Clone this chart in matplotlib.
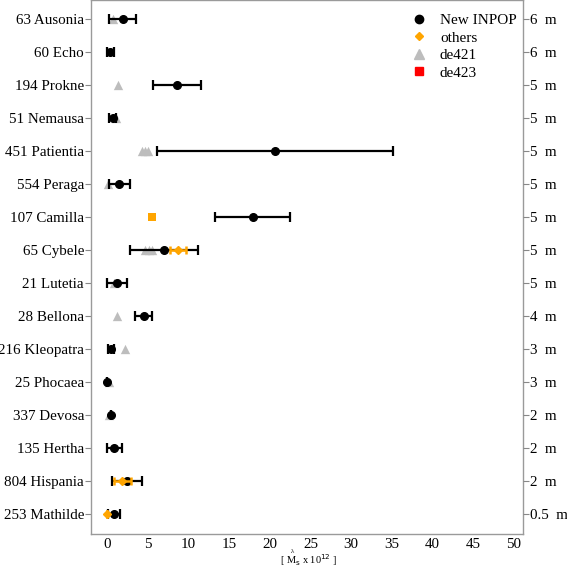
import matplotlib
matplotlib.use("Agg")
import matplotlib.pyplot as plt
import numpy as np
from matplotlib.lines import Line2D

plt.rcParams['font.family'] = ['Liberation Serif', 'DejaVu Serif']

# rows listed top to bottom
asteroids = ["63 Ausonia", "60 Echo", "194 Prokne", "51 Nemausa", "451 Patientia",
             "554 Peraga", "107 Camilla", "65 Cybele", "21 Lutetia", "28 Bellona",
             "216 Kleopatra", "25 Phocaea", "337 Devosa", "135 Hertha", "804 Hispania",
             "253 Mathilde"]
right_labels = ["6", "6", "5", "5", "5", "5", "5", "5", "5", "4", "3", "3", "2", "2", "2", "0.5"]

inpop_val = [1.95, 0.4, 8.6, 0.7, 20.6, 1.5, 17.9, 7.0, 1.2, 4.5, 0.5, 0.0, 0.5, 0.9, 2.45, 0.86]
inpop_err = [1.67, 0.4, 2.9, 0.4, 14.5, 1.3, 4.6, 4.2, 1.2, 1.05, 0.4, 0.0, 0.0, 0.9, 1.8, 0.68]

de421_names = ["63 Ausonia", "194 Prokne", "51 Nemausa", "451 Patientia", "451 Patientia",
               "451 Patientia", "554 Peraga", "65 Cybele", "65 Cybele", "65 Cybele",
               "21 Lutetia", "28 Bellona", "216 Kleopatra", "25 Phocaea", "337 Devosa"]
de421_vals = [0.7, 1.35, 1.1, 4.3, 4.65, 5.0, 0.15, 4.7, 5.1, 5.5, 0.9, 1.2, 2.2, 0.25, 0.2]

others_names = ["65 Cybele", "804 Hispania", "253 Mathilde"]
others_vals = [8.75, 1.85, 0.05]
others_err = [1.0, 1.05, 0.0]
others_sq_names = ["107 Camilla"]
others_sq_vals = [5.5]

n = len(asteroids)
ypos = {name: n - i for i, name in enumerate(asteroids)}

fig = plt.figure(figsize=(5.67, 5.67), dpi=100)
ax = fig.add_axes([0.1605, 0.058, 0.922 - 0.1605, 0.942])

gray = "#bdbdbd"
orange = "#ffa500"
fs = 10.8

# de421
ax.scatter(de421_vals, [ypos[k] for k in de421_names], marker="^", s=45,
           color=gray, zorder=2, linewidths=0)
# others
ax.errorbar(others_vals, [ypos[k] for k in others_names], xerr=others_err,
            fmt="D", ms=4, color=orange, ecolor=orange, elinewidth=1.8,
            capsize=3, capthick=1.8, zorder=4)
ax.scatter(others_sq_vals, [ypos[k] for k in others_sq_names], marker="s", s=30,
           color=orange, zorder=4, linewidths=0)
# new INPOP
yv = [ypos[k] for k in asteroids]
ax.errorbar(inpop_val, yv, xerr=inpop_err, fmt="o", ms=5.5, color="black",
            ecolor="black", elinewidth=1.6, capsize=3.5, capthick=1.6, zorder=3)

ax.set_xlim(-1.97, 51.1)
ax.set_ylim(0.394, 16.576)
ax.set_xticks(np.arange(0, 51, 5))
ax.tick_params(axis="x", length=0, labelsize=fs, pad=3, colors="black")
ax.set_yticks(yv)
ax.set_yticklabels(asteroids, fontsize=fs)
ax.tick_params(axis="y", length=4, color="#888888", pad=1)

for sp in ax.spines.values():
    sp.set_color("#9a9a9a")
    sp.set_linewidth(1.0)

ax2 = ax.twinx()
ax2.set_ylim(ax.get_ylim())
ax2.set_yticks(yv)
ax2.set_yticklabels([s + "\u2002m" for s in right_labels], fontsize=fs)
ax2.tick_params(axis="y", length=4, color="#888888", pad=1.5)
for sp in ax2.spines.values():
    sp.set_visible(False)

fig.text(0.545, 0.012, r"[ M$_{\rm s}$ x 10$^{12}$ ]", fontsize=7.5, ha="center", va="center")
fig.text(0.516, 0.027, "λ", fontsize=5, ha="center", va="center")

handles = [
    Line2D([], [], marker="o", ls="", color="black", ms=6),
    Line2D([], [], marker="D", ls="", color=orange, ms=4),
    Line2D([], [], marker="^", ls="", color=gray, ms=7.5),
    Line2D([], [], marker="s", ls="", color="red", ms=6),
]
ax.legend(handles, ["New INPOP", "others", "de421", "de423"], loc="upper right",
          frameon=False, fontsize=11, handletextpad=0.6, labelspacing=0.25,
          borderaxespad=0.0, handlelength=1.5, bbox_to_anchor=(1.0, 0.986))

fig.savefig("out.png", dpi=100)
